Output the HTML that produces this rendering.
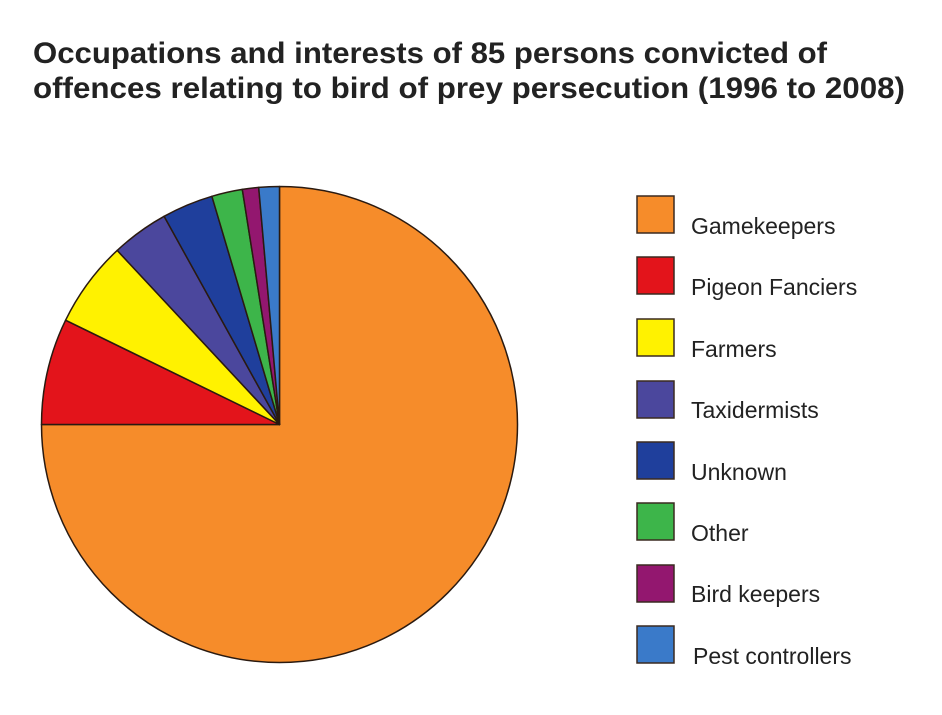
<!DOCTYPE html>
<html><head><style>body{margin:0;background:#fff}svg{display:block}</style></head><body>
<svg width="942" height="715" viewBox="0 0 942 715" xmlns="http://www.w3.org/2000/svg">
<rect width="942" height="715" fill="#fff"/>
<g font-family="Liberation Sans, sans-serif" font-weight="bold" font-size="30" fill="#222">
<text x="33" y="63" textLength="794" lengthAdjust="spacingAndGlyphs">Occupations and interests of 85 persons convicted of</text>
<text x="33" y="98" textLength="872" lengthAdjust="spacingAndGlyphs">offences relating to bird of prey persecution (1996 to 2008)</text>
</g>
<g stroke="#2a1a10" stroke-width="1.5" stroke-linejoin="round">
<path d="M279.5,424.5 L279.5,186.5 A238,238 0 1 1 41.5,424.5 Z" fill="#f68c2a"/>
<path d="M279.5,424.5 L41.5,424.5 A238,238 0 0 1 65.6,320.2 Z" fill="#e3141b"/>
<path d="M279.5,424.5 L65.6,320.2 A238,238 0 0 1 117.2,250.4 Z" fill="#fff200"/>
<path d="M279.5,424.5 L117.2,250.4 A238,238 0 0 1 164.1,216.3 Z" fill="#4b479d"/>
<path d="M279.5,424.5 L164.1,216.3 A238,238 0 0 1 211.9,196.3 Z" fill="#1f3f9c"/>
<path d="M279.5,424.5 L211.9,196.3 A238,238 0 0 1 242.3,189.4 Z" fill="#3db54a"/>
<path d="M279.5,424.5 L242.3,189.4 A238,238 0 0 1 258.7,187.4 Z" fill="#93176f"/>
<path d="M279.5,424.5 L258.7,187.4 A238,238 0 0 1 279.5,186.5 Z" fill="#3a7ac9"/>
</g>
<g stroke="#3a2a20" stroke-width="1.5">
<rect x="637" y="196" width="37" height="37" fill="#f68c2a"/>
<rect x="637" y="257" width="37" height="37" fill="#e3141b"/>
<rect x="637" y="319" width="37" height="37" fill="#fff200"/>
<rect x="637" y="381" width="37" height="37" fill="#4b479d"/>
<rect x="637" y="442" width="37" height="37" fill="#1f3f9c"/>
<rect x="637" y="503" width="37" height="37" fill="#3db54a"/>
<rect x="637" y="565" width="37" height="37" fill="#93176f"/>
<rect x="637" y="626" width="37" height="37" fill="#3a7ac9"/>
</g>
<g font-family="Liberation Sans, sans-serif" font-size="23" fill="#222">
<text x="691" y="234">Gamekeepers</text>
<text x="691" y="295">Pigeon Fanciers</text>
<text x="691" y="357">Farmers</text>
<text x="691" y="418">Taxidermists</text>
<text x="691" y="480">Unknown</text>
<text x="691" y="541">Other</text>
<text x="691" y="602">Bird keepers</text>
<text x="693" y="664">Pest controllers</text>
</g>
</svg>
</body></html>
